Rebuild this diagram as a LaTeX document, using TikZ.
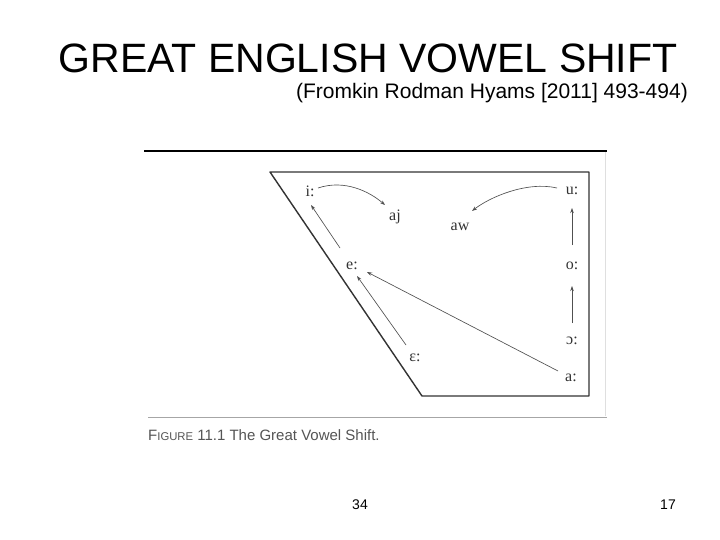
\documentclass[tikz,border=0pt]{standalone}
\usepackage{fontspec}
\setmainfont{Liberation Sans}
\newfontfamily\vowelfont{Liberation Serif}
\usetikzlibrary{arrows.meta,calc}
\definecolor{ink}{HTML}{333333}
\definecolor{pen}{HTML}{505050}
\definecolor{capgray}{HTML}{555555}
\tikzset{
  vowel/.style={inner sep=0pt, text=ink, font=\vowelfont\fontsize{16}{18}\selectfont},
  arr/.style={pen, line width=0.65pt, -{Stealth[length=5pt,width=3.5pt]}},
  frame/.style={ink, line width=1.4pt, line join=round},
}
\begin{document}
\begin{tikzpicture}[x=1pt,y=-1pt]
\useasboundingbox (0,0) rectangle (720,540);
\fill[white] (0,0) rectangle (720,540);
% titles
\node[anchor=center, inner sep=0pt, font=\fontsize{41}{45}\selectfont] (title) at (368,58) {GREAT ENGLISH VOWEL SHIFT};
\node[anchor=east, inner sep=0pt, font=\fontsize{21}{24}\selectfont] (sub) at (688,93) {(Fromkin Rodman Hyams [2011] 493-494)};
% scanned figure rules
\draw[black, line width=1.2pt] (144,151) -- (607,151);
\draw[gray!25, line width=0.6pt] (605,152) -- (605,416);
\draw[gray!70, line width=0.8pt] (148,417) -- (607,417);
% vowel trapezoid
\draw[frame] (270,172) -- (589,172) -- (589,396) -- (422,396) -- cycle;
% vowels
\node[vowel] (i) at (310,191) {i:};
\node[vowel] (aj) at (395,217) {aj};
\node[vowel] (aw) at (460,227) {aw};
\node[vowel] (u) at (572,191) {u:};
\node[vowel] (e) at (352,266) {e:};
\node[vowel] (o) at (572,266) {o:};
\node[vowel] (oo) at (572,341) {ɔ:};
\node[vowel] (ee) at (415,358) {ɛ:};
\node[vowel] (a) at (571,378) {a:};
% shifts
\draw[arr] ($(i)+(8,-3)$) .. controls ($(i)+(35,-12)$) and ($(aj)+(-25,-25)$) .. ($(aj)+(-10,-12)$);
\draw[arr] ($(u)+(-15,-3)$) .. controls ($(u)+(-45,-10)$) and ($(aw)+(30,-30)$) .. ($(aw)+(12,-16)$);
\draw[arr] ($(e)+(-12,-18)$) -- ($(i)+(1,14)$);
\draw[arr] ($(o)+(0,-21)$) -- ($(u)+(0,17)$);
\draw[arr] ($(oo)+(0,-18)$) -- ($(o)+(0,20)$);
\draw[arr] ($(ee)+(-9,-13)$) -- ($(e)+(5,10)$);
\draw[arr] ($(a)+(-13,-7)$) -- ($(e)+(15,6)$);
% caption
\node[anchor=west, inner sep=0pt, text=capgray, font=\fontsize{15}{17}\selectfont] (cap) at (148,435) {F{\fontsize{11.3}{13}\selectfont IGURE} 11.1 The Great Vowel Shift.};
% page numbers
\node[inner sep=0pt, font=\fontsize{14}{16}\selectfont] (p34) at (360,505) {34};
\node[inner sep=0pt, font=\fontsize{14}{16}\selectfont] (p17) at (668,505) {17};
\end{tikzpicture}
\end{document}
